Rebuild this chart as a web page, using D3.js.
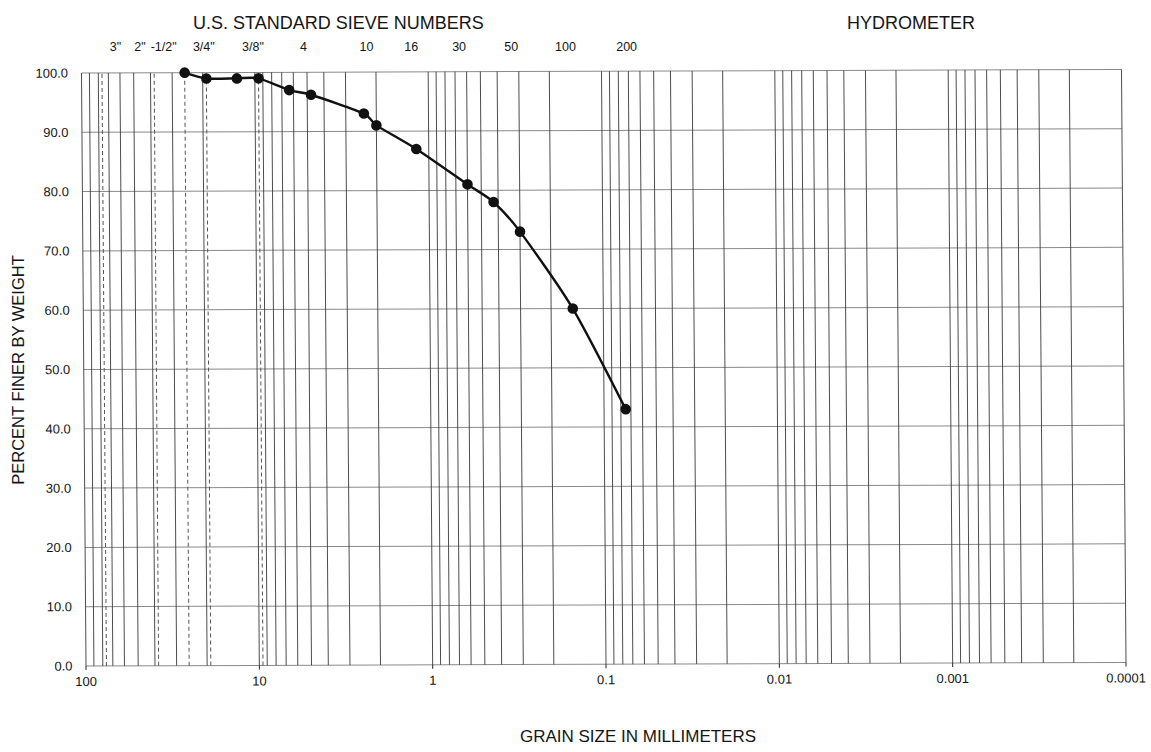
<!DOCTYPE html>
<html>
<head>
<meta charset="utf-8">
<script src="https://cdn.jsdelivr.net/npm/d3@7"></script>
<style>
  body { margin: 0; background: #fff; }
  text { font-family: "Liberation Sans", Arial, sans-serif; fill: #151515; }
</style>
</head>
<body>
<svg id="chart" width="1151" height="752"></svg>
<script>
// Sieve analysis results: particle size (mm) vs. percent passing
const grainSizeMm  = [25.4, 19.05, 12.7, 9.525, 6.35, 4.75, 2.36, 2.0, 1.18, 0.6, 0.425, 0.3, 0.15, 0.075];
const percentFiner = [100.0, 99.0, 99.0, 99.0, 97.0, 96.2, 93.0, 91.0, 87.0, 81.0, 78.0, 73.0, 60.0, 43.0];

// U.S. standard sieve designations printed across the top
const sieveLabels     = ['3"', '2"', '-1/2"', '3/4"', '3/8"', '4', '10', '16', '30', '50', '100', '200'];
const sieveOpeningsMm = [76.2, 50.8, 38.1, 19.05, 9.525, 4.75, 2.0, 1.18, 0.6, 0.3, 0.15, 0.075];

// Inch-sieve openings drawn as dashed reference lines
const inchSieveMm = [76.2, 38.1, 25.4, 19.05, 9.525];

// Axis ticks
const xTickValues = [100, 10, 1, 0.1, 0.01, 0.001, 0.0001];
const xTickLabels = ["100", "10", "1", "0.1", "0.01", "0.001", "0.0001"];
const yTickValues = [0, 10, 20, 30, 40, 50, 60, 70, 80, 90, 100];

// ---- layout ----
const plot = { left: 86, right: 1126, top: 73, bottom: 666 };
const sieveLabelShift = [9, 3, 5, -7, -10, -12, -14, -9, -12, -12, -10, -1];
// slight sheet tilt of the printed form
const tiltX = 0.0076, tiltY = -0.0034;

const svg = d3.select("#chart");

const x = d3.scaleLog().domain([100, 0.0001]).range([plot.left, plot.right]);
const y = d3.scaleLinear().domain([0, 100]).range([plot.bottom, plot.top]);

const g = svg.append("g")
  .attr("transform", `matrix(1, ${tiltY}, ${tiltX}, 1, ${-tiltX * plot.bottom}, ${-tiltY * plot.left})`);

// horizontal grid
g.append("g").selectAll("line").data(yTickValues).join("line")
  .attr("x1", plot.left).attr("x2", x(0.0001))
  .attr("y1", d => y(d)).attr("y2", d => y(d))
  .attr("stroke", "#8a8a8a").attr("stroke-width", 1);

// vertical log grid (1..9 per decade)
g.append("g").selectAll("line").data(x.ticks()).join("line")
  .attr("x1", d => x(d)).attr("x2", d => x(d))
  .attr("y1", y(0)).attr("y2", y(100))
  .attr("stroke", "#3a3a3a").attr("stroke-width", 0.9);

// dashed inch-sieve lines
g.append("g").selectAll("line").data(inchSieveMm).join("line")
  .attr("x1", d => x(d)).attr("x2", d => x(d))
  .attr("y1", y(0)).attr("y2", y(100))
  .attr("stroke", "#555").attr("stroke-width", 1)
  .attr("stroke-dasharray", "4,3");

// major ticks below the axis
g.append("g").selectAll("line").data(xTickValues).join("line")
  .attr("x1", d => x(d)).attr("x2", d => x(d))
  .attr("y1", y(0)).attr("y2", y(0) + 4)
  .attr("stroke", "#222").attr("stroke-width", 1);

// x tick labels
g.append("g").selectAll("text").data(xTickValues).join("text")
  .attr("x", d => x(d)).attr("y", plot.bottom + 20)
  .attr("text-anchor", "middle").attr("font-size", 13)
  .text((d, i) => xTickLabels[i]);

// y tick labels
g.append("g").selectAll("text").data(yTickValues).join("text")
  .attr("x", plot.left - 13.5).attr("y", d => y(d))
  .attr("dy", "0.35em")
  .attr("text-anchor", "end").attr("font-size", 13)
  .text(d => d.toFixed(1));

// gradation curve
const pts = grainSizeMm.map((d, i) => [x(d), y(percentFiner[i])]);
g.append("path")
  .attr("d", d3.line().curve(d3.curveCardinal.tension(0.25))(pts))
  .attr("fill", "none").attr("stroke", "#111").attr("stroke-width", 2.4);

g.append("g").selectAll("circle").data(pts).join("circle")
  .attr("cx", d => d[0]).attr("cy", d => d[1]).attr("r", 5.3)
  .attr("fill", "#111");

// headings
svg.append("text").attr("x", 193).attr("y", 29)
  .attr("font-size", 18).text("U.S. STANDARD SIEVE NUMBERS");
svg.append("text").attr("x", 911).attr("y", 29)
  .attr("text-anchor", "middle").attr("font-size", 18).text("HYDROMETER");

svg.append("g").selectAll("text").data(sieveLabels).join("text")
  .attr("x", (d, i) => x(sieveOpeningsMm[i]) + sieveLabelShift[i])
  .attr("y", 51)
  .attr("text-anchor", "middle").attr("font-size", 12.5)
  .text(d => d);

// axis titles
svg.append("text")
  .attr("transform", "translate(24,370) rotate(-90)")
  .attr("text-anchor", "middle").attr("font-size", 16.5)
  .text("PERCENT FINER BY WEIGHT");
svg.append("text").attr("x", 638).attr("y", 742)
  .attr("text-anchor", "middle").attr("font-size", 17)
  .text("GRAIN SIZE IN MILLIMETERS");
</script>
</body>
</html>
